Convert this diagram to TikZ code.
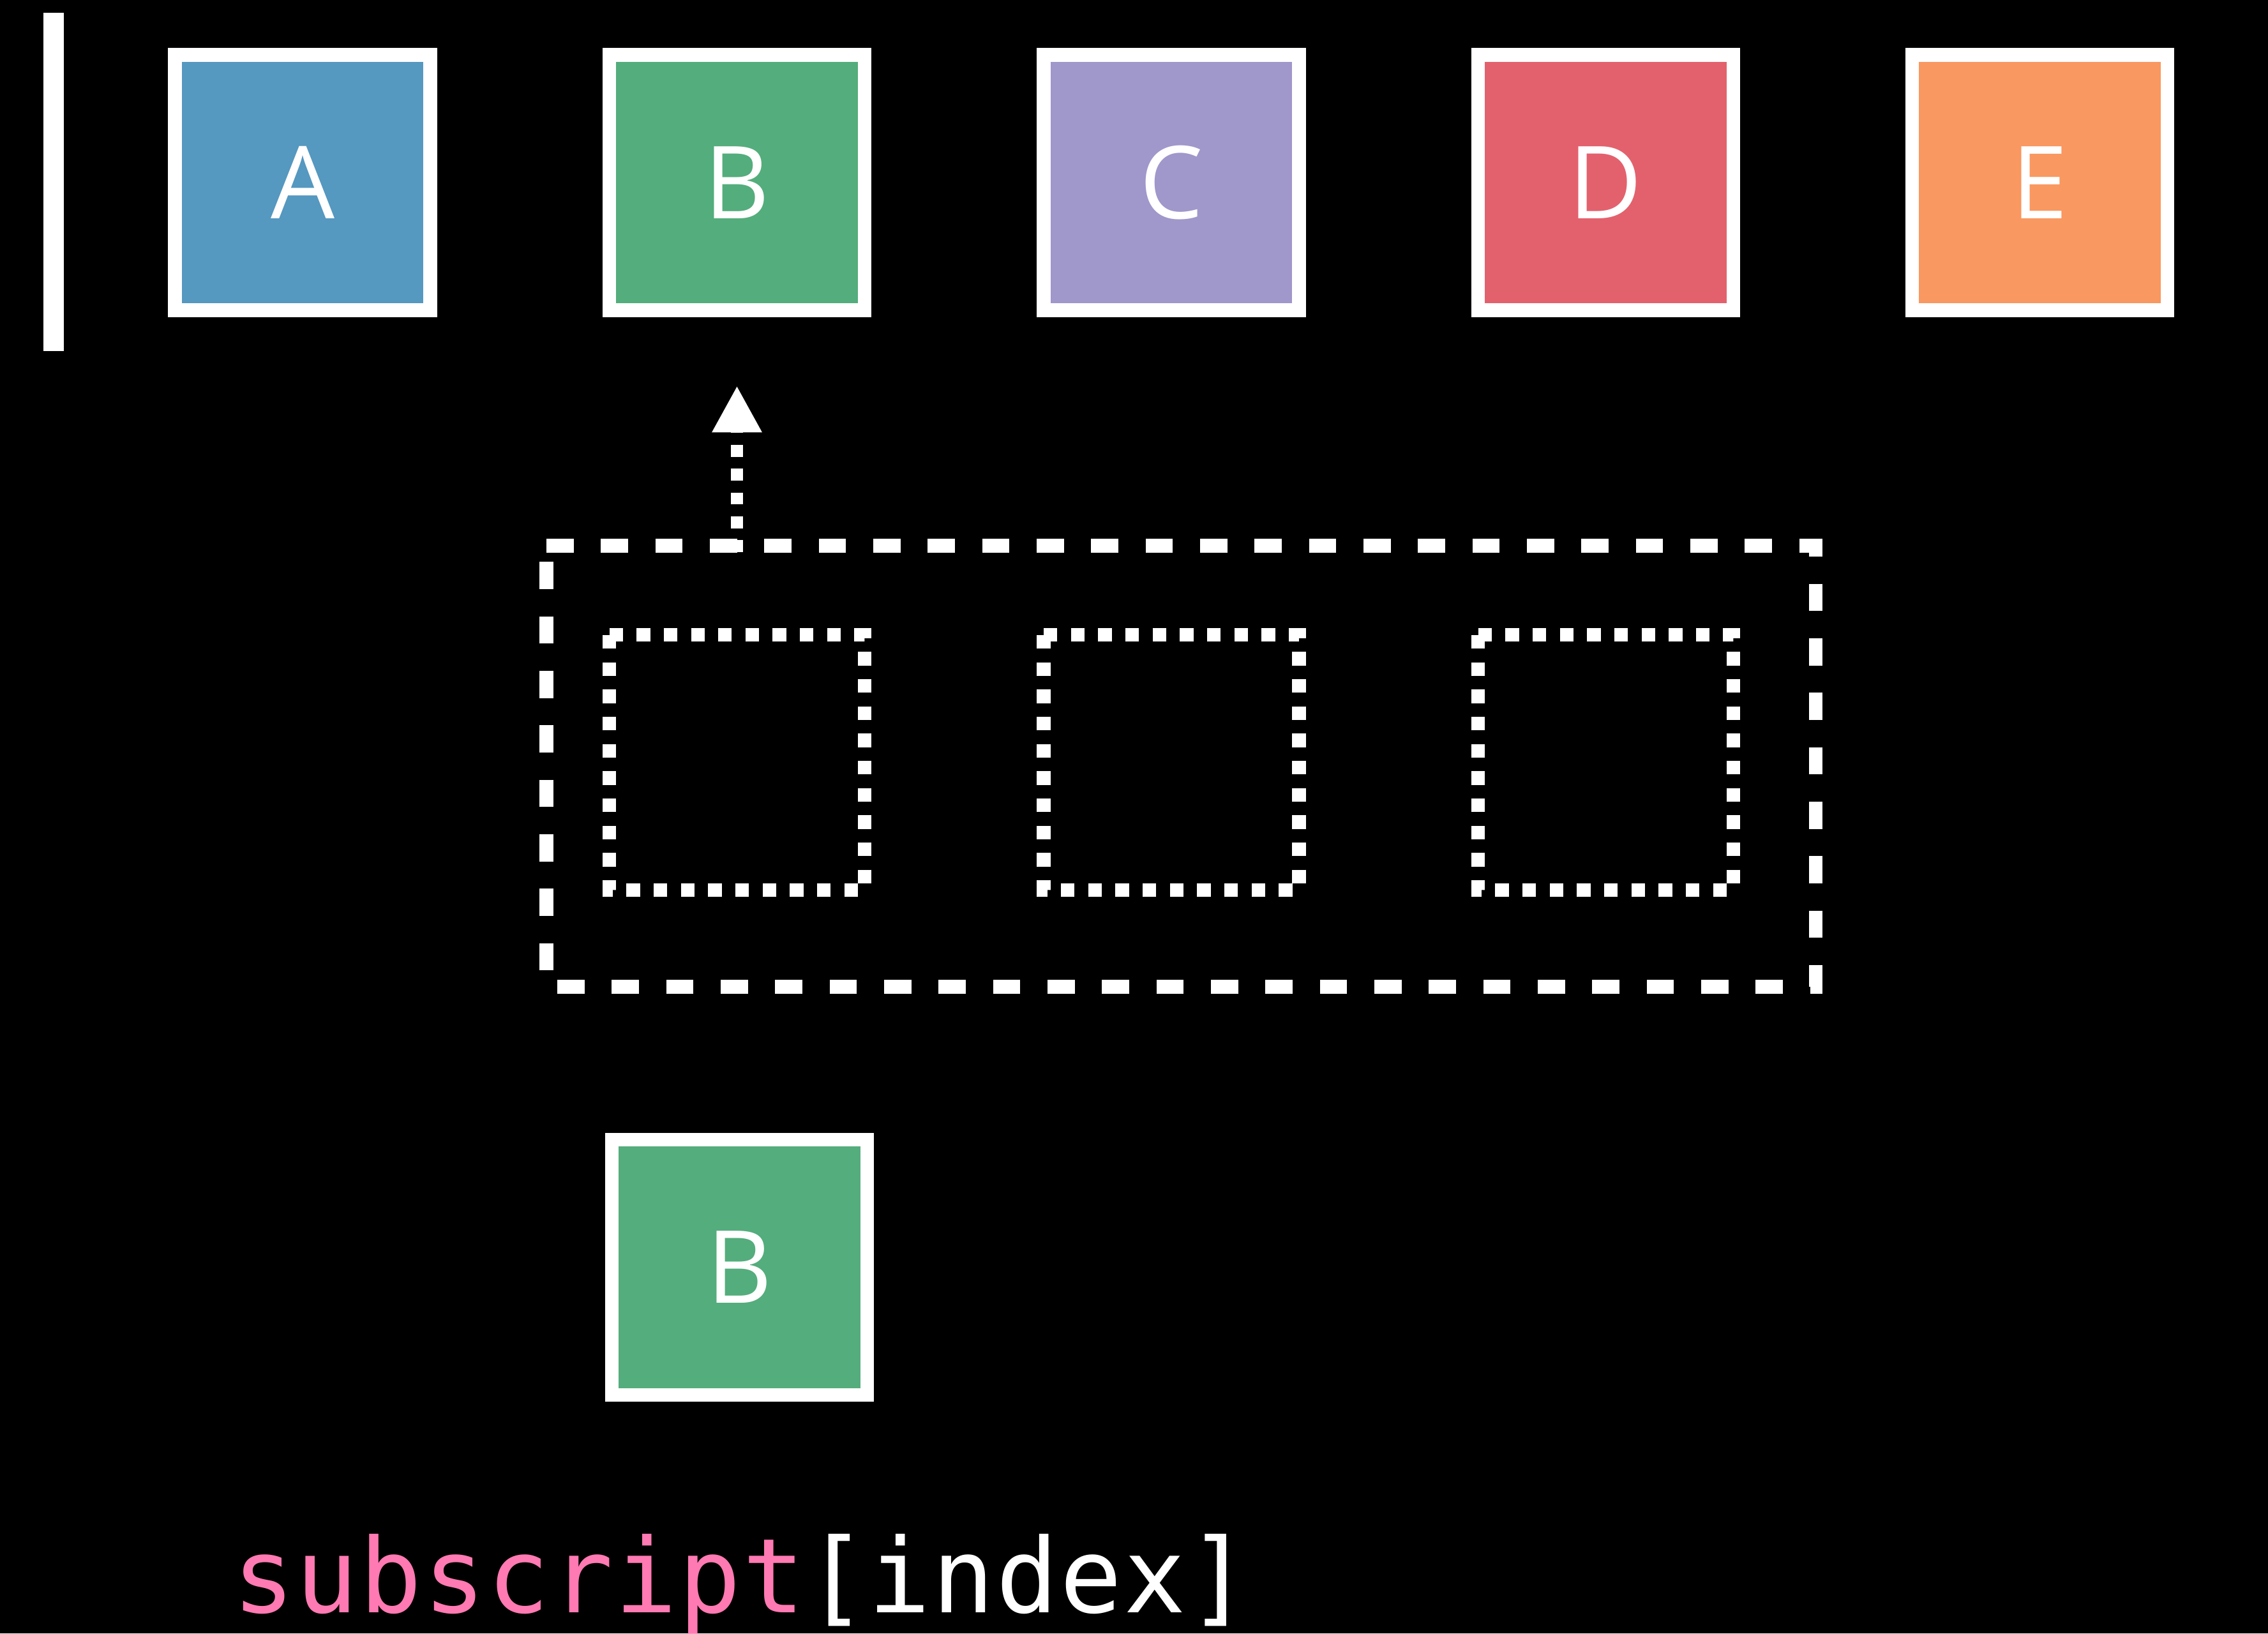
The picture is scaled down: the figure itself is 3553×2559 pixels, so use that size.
\documentclass[tikz,border=0pt]{standalone}
\usepackage{fontspec}
\setmainfont{Open Sans}
\newfontfamily\codefont[LetterSpace=1.5]{DejaVu Sans Mono}
\usetikzlibrary{arrows.meta}

\definecolor{cellA}{HTML}{5598C0}
\definecolor{cellB}{HTML}{54AD7C}
\definecolor{cellC}{HTML}{A097CB}
\definecolor{cellD}{HTML}{E3616D}
\definecolor{cellE}{HTML}{F99860}
\definecolor{keyword}{HTML}{FF7AB2}

\begin{document}
\begin{tikzpicture}[x=0.1pt,y=-0.1pt,
  cell/.style={draw=white, line width=2.133pt, minimum size=40pt,
    inner sep=0pt, outer sep=0pt, text=white,
    font=\fontsize{15.8pt}{15.8pt}\selectfont},
  slot/.style={minimum size=40pt, inner sep=0pt, outer sep=0pt},
  dotline/.style={draw=white, line width=2.133pt,
    dash pattern=on 2.133pt off 2.133pt},
  dashline/.style={draw=white, line width=2.133pt,
    dash pattern=on 4.267pt off 4.267pt},
]
% canvas
\fill[black] (0,0) rectangle (3553,2559);
\useasboundingbox (0,0) rectangle (3553,2559);

% text cursor
\node[fill=white, minimum width=3.2pt, minimum height=53pt,
  inner sep=0pt, outer sep=0pt] (cursor) at (84,285) {};

% the collection
\node[cell, fill=cellA] (A) at (474,286) {A};
\node[cell, fill=cellB] (B) at (1154.5,286) {B};
\node[cell, fill=cellC] (C) at (1835,286) {C};
\node[cell, fill=cellD] (D) at (2515.5,286) {D};
\node[cell, fill=cellE] (E) at (3195.5,286) {E};

% window with empty slots
\node[minimum width=198.85pt, minimum height=69.1pt, inner sep=0pt,
  outer sep=0pt] (window) at (1850.25,1200.5) {};
\draw[dashline] (window.north west) -- (window.north east)
  -- (window.south east) -- (window.south west) -- cycle;

\foreach \n/\x in {s1/1154.5, s2/1835, s3/2515.5}{
  \node[slot] (\n) at (\x,1194.7) {};
  \draw[dotline] (\n.north west) -- (\n.north east)
    -- (\n.south east) -- (\n.south west) -- cycle;
}

% lookup arrow
\coordinate (tail) at (1154.5,865);
\coordinate (tip) at (1154.5,604.3);
\draw[white, line width=1.867pt, dash pattern=on 1.867pt off 1.867pt,
  -{Triangle[length=7.3pt,width=7.3pt]}] (tail) -- (tip);

% result
\node[cell, fill=cellB] (pick) at (1158.7,1985.2) {B};

% code
\node[anchor=base west, inner sep=0pt, text=white,
  font=\codefont\fontsize{16.2pt}{16.2pt}\selectfont] (code) at (362,2526)
  {\textcolor{keyword}{subscript}[index]};
\end{tikzpicture}
\end{document}
